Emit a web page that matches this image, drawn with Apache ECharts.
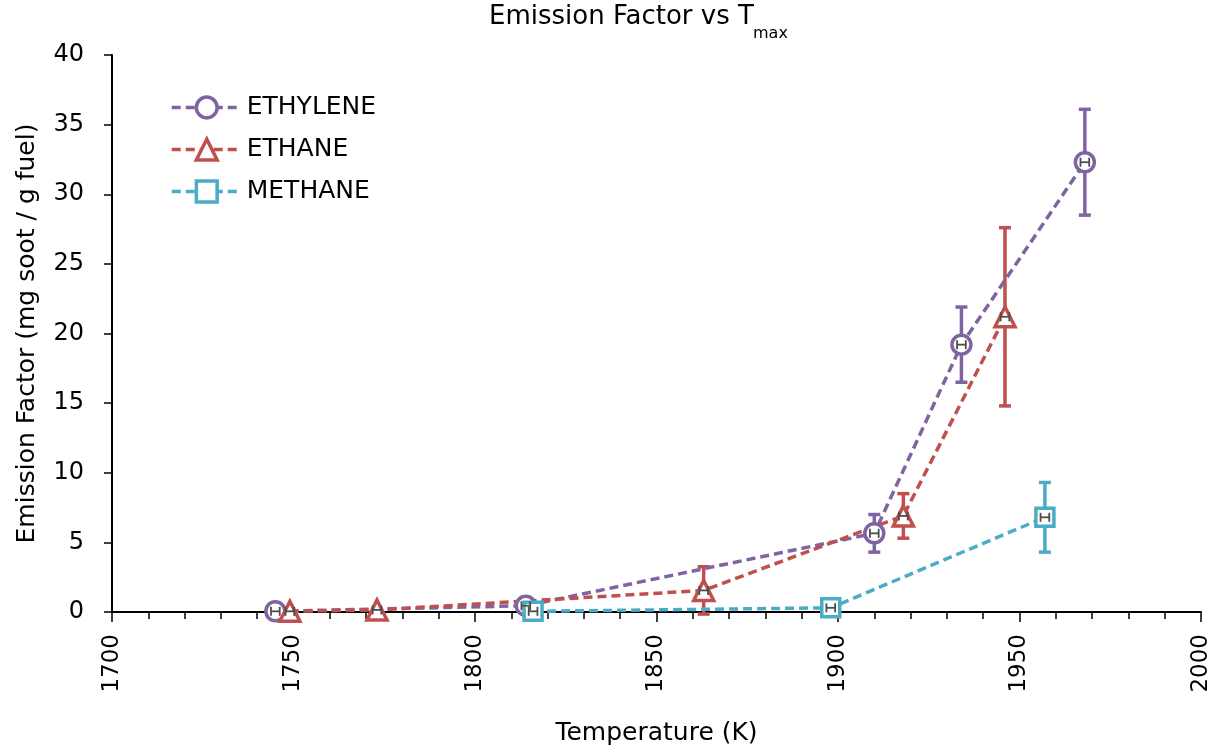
<!DOCTYPE html>
<html>
<head>
<meta charset="utf-8">
<script src="https://cdn.jsdelivr.net/npm/echarts@6/dist/echarts.min.js"></script>
<style>
html,body{margin:0;padding:0;background:#fff;}
#chart{width:1225px;height:749px;}
</style>
</head>
<body>
<div id="chart"></div>
<script>
// ---- data ----
const seriesNames = ['ETHYLENE', 'ETHANE', 'METHANE'];

const ethyleneT   = [1745, 1814, 1910, 1934, 1968];
const ethyleneEF  = [0.05, 0.45, 5.65, 19.2, 32.3];
const ethyleneErr = [0, 0, 1.35, 2.7, 3.8];
const ethyleneTErr = [1.2, 1.2, 1.2, 1.2, 1.2];

const ethaneT   = [1749, 1773, 1863, 1918, 1946];
const ethaneEF  = [0.05, 0.15, 1.55, 6.9, 21.2];
const ethaneErr = [0, 0, 1.7, 1.6, 6.4];
const ethaneTErr = [1.2, 1.2, 1.2, 1.2, 1.2];

const methaneT   = [1816, 1898, 1957];
const methaneEF  = [0.05, 0.3, 6.8];
const methaneErr = [0, 0, 2.5];
const methaneTErr = [1.2, 1.2, 1.2];

const xTicks = [1700, 1750, 1800, 1850, 1900, 1950, 2000];
const yTicks = [0, 5, 10, 15, 20, 25, 30, 35, 40];

// ---- styling ----
const colors = ['#8064A2', '#C0504D', '#4BACC6'];
const symbols = ['circle', 'triangle', 'rect'];
const symbolSizes = [19, 20, 18];
const FONT = 'DejaVu Sans';
const DASH = [9, 5];

function pairs(xs, ys) { return xs.map((x, i) => [x, ys[i]]); }
function triples(xs, ys, es) { return xs.map((x, i) => [x, ys[i], es[i]]); }

function vErrRender(color) {
  return function (params, api) {
    const x = api.value(0), y = api.value(1), e = api.value(2);
    if (!e) return null;
    const top = api.coord([x, y + e]);
    const bot = api.coord([x, y - e]);
    const cw = 6;
    const st = { stroke: color, lineWidth: 3.5 };
    return {
      type: 'group',
      children: [
        { type: 'line', shape: { x1: top[0], y1: top[1], x2: bot[0], y2: bot[1] }, style: st },
        { type: 'line', shape: { x1: top[0] - cw, y1: top[1], x2: top[0] + cw, y2: top[1] }, style: st },
        { type: 'line', shape: { x1: bot[0] - cw, y1: bot[1], x2: bot[0] + cw, y2: bot[1] }, style: st }
      ]
    };
  };
}

function hErrRender(params, api) {
  const x = api.value(0), y = api.value(1), e = api.value(2);
  if (!e) return null;
  const l = api.coord([x - e, y]);
  const r = api.coord([x + e, y]);
  const ch = 4.5;
  const st = { stroke: '#4d4d4d', lineWidth: 1.8 };
  return {
    type: 'group',
    children: [
      { type: 'line', shape: { x1: l[0], y1: l[1], x2: r[0], y2: r[1] }, style: st },
      { type: 'line', shape: { x1: l[0], y1: l[1] - ch, x2: l[0], y2: l[1] + ch }, style: st },
      { type: 'line', shape: { x1: r[0], y1: r[1] - ch, x2: r[0], y2: r[1] + ch }, style: st }
    ]
  };
}

const Ts = [ethyleneT, ethaneT, methaneT];
const EFs = [ethyleneEF, ethaneEF, methaneEF];
const Errs = [ethyleneErr, ethaneErr, methaneErr];
const TErrs = [ethyleneTErr, ethaneTErr, methaneTErr];

const series = [];
seriesNames.forEach((name, i) => {
  series.push({
    name: name + ' err',
    type: 'custom',
    renderItem: vErrRender(colors[i]),
    encode: { x: 0, y: 1 },
    data: triples(Ts[i], EFs[i], Errs[i]),
    z: 1,
    silent: true
  });
});
seriesNames.forEach((name, i) => {
  series.push({
    name: name,
    type: 'line',
    data: pairs(Ts[i], EFs[i]),
    symbol: symbols[i],
    symbolSize: symbolSizes[i],
    showAllSymbol: true,
    lineStyle: { color: colors[i], width: 3.5, type: DASH },
    itemStyle: { color: '#ffffff', borderColor: colors[i], borderWidth: 3.5 },
    z: 2
  });
});
seriesNames.forEach((name, i) => {
  series.push({
    name: name + ' terr',
    type: 'custom',
    renderItem: hErrRender,
    encode: { x: 0, y: 1 },
    data: triples(Ts[i], EFs[i], TErrs[i]),
    z: 3,
    silent: true
  });
});

const chart = echarts.init(document.getElementById('chart'), null, { renderer: 'canvas' });
chart.setOption({
  animation: false,
  backgroundColor: '#ffffff',
  title: [
    { text: 'Emission Factor vs T', left: 489, top: 4, padding: 0,
      textStyle: { fontFamily: FONT, fontSize: 26, fontWeight: 'normal', color: '#000' } },
    { text: 'max', left: 753, top: 26, padding: 0,
      textStyle: { fontFamily: FONT, fontSize: 16, fontWeight: 'normal', color: '#000' } }
  ],
  legend: {
    data: seriesNames,
    orient: 'vertical',
    left: 170,
    top: 95,
    padding: 0,
    itemWidth: 70,
    itemHeight: 26,
    itemGap: 17,
    itemStyle: { borderWidth: 3.5 },
    lineStyle: { width: 3.5, type: DASH },
    textStyle: { fontFamily: FONT, fontSize: 25, color: '#000' }
  },
  grid: { left: 112, right: 24, top: 55, bottom: 137, containLabel: false, outerBoundsMode: 'none' },
  xAxis: {
    type: 'value',
    min: xTicks[0],
    max: xTicks[xTicks.length - 1],
    interval: xTicks[1] - xTicks[0],
    name: 'Temperature (K)',
    nameLocation: 'middle',
    nameGap: 109,
    nameTextStyle: { fontFamily: FONT, fontSize: 25, color: '#000' },
    axisLine: { show: true, onZero: false, lineStyle: { color: '#000', width: 2 } },
    axisTick: { show: true, inside: false, length: 10, lineStyle: { color: '#000', width: 1.5 } },
    minorTick: { show: true, splitNumber: 5, length: 7, lineStyle: { color: '#000', width: 1.5 } },
    splitLine: { show: false },
    axisLabel: { rotate: 90, margin: 22, fontFamily: FONT, fontSize: 23, color: '#000',
      formatter: function (v) { return String(v); } }
  },
  yAxis: {
    type: 'value',
    min: yTicks[0],
    max: yTicks[yTicks.length - 1],
    interval: yTicks[1] - yTicks[0],
    name: 'Emission Factor (mg soot / g fuel)',
    nameLocation: 'middle',
    nameGap: 72,
    nameTextStyle: { fontFamily: FONT, fontSize: 25, color: '#000' },
    axisLine: { show: true, lineStyle: { color: '#000', width: 2 } },
    axisTick: { show: true, inside: false, length: 8, lineStyle: { color: '#000', width: 1.5 } },
    splitLine: { show: false },
    axisLabel: { margin: 28, fontFamily: FONT, fontSize: 24, color: '#000' }
  },
  series: series
});
</script>
</body>
</html>
